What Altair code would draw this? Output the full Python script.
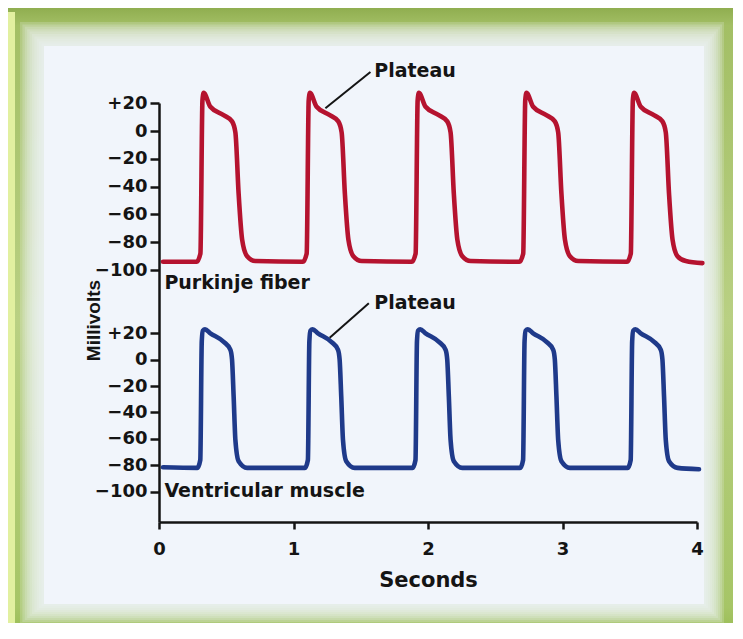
import altair as alt
import pandas as pd

# ---------------- data ----------------
# Purkinje fiber action potentials (upper trace): time (s), membrane potential (mV)
purkinje_t = [
    0.03,
    0.28, 0.308, 0.323, 0.332, 0.382, 0.48, 0.543, 0.568, 0.592, 0.618, 0.655, 0.717,
    1.07,
    1.098, 1.113, 1.122, 1.172, 1.27, 1.333, 1.358, 1.382, 1.408, 1.445, 1.507,
    1.88,
    1.908, 1.923, 1.932, 1.982, 2.08, 2.143, 2.168, 2.192, 2.218, 2.255, 2.317,
    2.68,
    2.708, 2.723, 2.732, 2.782, 2.88, 2.943, 2.968, 2.992, 3.018, 3.055, 3.117,
    3.48,
    3.508, 3.523, 3.532, 3.582, 3.68, 3.743, 3.768, 3.792, 3.818, 3.855, 3.917,
    4.04,
]
purkinje_mv = [
    -94,
    -94, -88, 22, 27.5, 17.5, 11.5, 7, -1, -45, -78, -90, -93.5,
    -94,
    -88, 22, 27.5, 17.5, 11.5, 7, -1, -45, -78, -90, -93.5,
    -94,
    -88, 22, 27.5, 17.5, 11.5, 7, -1, -45, -78, -90, -93.5,
    -94,
    -88, 22, 27.5, 17.5, 11.5, 7, -1, -45, -78, -90, -93.5,
    -94,
    -88, 22, 27.5, 17.5, 11.5, 7, -1, -45, -78, -90, -93.5,
    -95,
]

# Ventricular muscle action potentials (lower trace)
ventricular_t = [
    0.03,
    0.285, 0.307, 0.318, 0.326, 0.342, 0.382, 0.481, 0.531, 0.543, 0.555, 0.568, 0.592, 0.655,
    1.085,
    1.107, 1.118, 1.126, 1.142, 1.182, 1.281, 1.331, 1.343, 1.355, 1.368, 1.392, 1.455,
    1.885,
    1.907, 1.918, 1.926, 1.942, 1.982, 2.081, 2.131, 2.143, 2.155, 2.168, 2.192, 2.255,
    2.685,
    2.707, 2.718, 2.726, 2.742, 2.782, 2.881, 2.931, 2.943, 2.955, 2.968, 2.992, 3.055,
    3.485,
    3.507, 3.518, 3.526, 3.542, 3.582, 3.681, 3.731, 3.743, 3.755, 3.768, 3.792, 3.855,
    4.015,
]
ventricular_mv = [
    -81.5,
    -82, -76, 14, 22, 23, 20, 13.5, 7.5, 0, -28, -61, -77, -82,
    -82,
    -76, 14, 22, 23, 20, 13.5, 7.5, 0, -28, -61, -77, -82,
    -82,
    -76, 14, 22, 23, 20, 13.5, 7.5, 0, -28, -61, -77, -82,
    -82,
    -76, 14, 22, 23, 20, 13.5, 7.5, 0, -28, -61, -77, -82,
    -82,
    -76, 14, 22, 23, 20, 13.5, 7.5, 0, -28, -61, -77, -82,
    -83,
]

mv_ticks = [20, 0, -20, -40, -60, -80, -100]
second_ticks = [0, 1, 2, 3, 4]

trace_names = ["Purkinje fiber", "Ventricular muscle"]
trace_panels = ["top", "bottom"]
trace_colors = ["#b5132f", "#1f3a8a"]

# annotation anchors (time s, mV in own panel)
label_t = [0.04, 0.04]
label_mv = [-113.5, -104]
plateau_text = ["Plateau", "Plateau"]
plateau_text_t = [1.60, 1.60]
plateau_text_mv = [43.6, 43.3]
plateau_line_t1 = [1.572, 1.560]
plateau_line_mv1 = [42.5, 42.7]
plateau_line_t2 = [1.237, 1.269]
plateau_line_mv2 = [16.4, 16.7]

# ---------------- layout of the two stacked panels on one y scale ----------------
TOP_OFFSET = 173.2   # where the upper panel's 0 mV sits on the shared axis
TOP_GAIN = 1.053     # upper panel is drawn slightly taller


def to_u(mv, panel):
    return TOP_OFFSET + TOP_GAIN * mv if panel == "top" else mv


rows = []
for name, panel, ts, vs in [
    (trace_names[0], trace_panels[0], purkinje_t, purkinje_mv),
    (trace_names[1], trace_panels[1], ventricular_t, ventricular_mv),
]:
    for t, v in zip(ts, vs):
        rows.append({"trace": name, "t": t, "mv": v, "u": to_u(v, panel)})
traces = pd.DataFrame(rows)

labels_df = pd.DataFrame({
    "text": trace_names,
    "t": label_t,
    "u": [to_u(m, p) for m, p in zip(label_mv, trace_panels)],
})
plateau_df = pd.DataFrame({
    "text": plateau_text,
    "t": plateau_text_t,
    "u": [to_u(m, p) for m, p in zip(plateau_text_mv, trace_panels)],
    "t1": plateau_line_t1,
    "u1": [to_u(m, p) for m, p in zip(plateau_line_mv1, trace_panels)],
    "t2": plateau_line_t2,
    "u2": [to_u(m, p) for m, p in zip(plateau_line_mv2, trace_panels)],
})

y_tick_values = [to_u(v, "top") for v in mv_ticks] + [to_u(v, "bottom") for v in mv_ticks]

W, H = 538, 419
X0, Y0 = 159, 103          # page position of plot origin
FONT = "DejaVu Sans"
INK = "#141414"

v_expr = f"(datum.value > 60 ? round((datum.value - {TOP_OFFSET}) / {TOP_GAIN}) : round(datum.value))"
label_expr = f"{v_expr} > 0 ? '+' + {v_expr} : ({v_expr} < 0 ? '\u2212' + abs({v_expr}) : '0')"

x_scale = alt.Scale(domain=[0, 4], nice=False, zero=False)
y_scale = alt.Scale(domain=[-123, 194.5], nice=False, zero=False)

x_axis = alt.Axis(
    values=second_ticks, format="d", title="Seconds", grid=False,
    labelFont=FONT, labelFontSize=18, labelFontWeight="bold", labelColor=INK,
    labelPadding=11, labelFlush=False, tickSize=7, tickWidth=2.5, tickColor=INK,
    domainColor=INK, domainWidth=2.5, titleFont=FONT, titleFontSize=21,
    titleFontWeight="bold", titleColor=INK, titleY=58, titleBaseline="middle", zindex=1,
)
y_axis = alt.Axis(
    values=y_tick_values, labelExpr=label_expr, title="Millivolts", grid=False,
    labelFont=FONT, labelFontSize=18, labelFontWeight="bold", labelColor=INK,
    labelPadding=3, labelFlush=False, labelOverlap=False, tickSize=9, tickWidth=2.5,
    tickColor=INK, domainColor=INK, domainWidth=2.5, titleFont="Liberation Sans",
    titleFontSize=19, titleFontWeight="bold", titleColor=INK, titleX=-66, titleY=217,
    titleAngle=270, titleAlign="center", titleBaseline="middle", zindex=1,
)

X = lambda f: alt.X(f, type="quantitative", scale=x_scale, axis=x_axis)
Y = lambda f: alt.Y(f, type="quantitative", scale=y_scale, axis=y_axis)

# ---------------- decorative frame ----------------
dummy = pd.DataFrame({"d": [0]})


def rect(x1, y1, x2, y2, **kw):
    return alt.Chart(dummy).mark_rect(**kw).encode(
        x=alt.value(x1 - X0), x2=alt.value(x2 - X0),
        y=alt.value(y1 - Y0), y2=alt.value(y2 - Y0),
    )


frame_grad = alt.Gradient(
    gradient="linear", x1=0, y1=0, x2=0, y2=1,
    stops=[
        alt.GradientStop(offset=0, color="#87a646"),
        alt.GradientStop(offset=0.04, color="#a3bf65"),
        alt.GradientStop(offset=0.5, color="#b9d083"),
        alt.GradientStop(offset=0.95, color="#a6c566"),
        alt.GradientStop(offset=1, color="#97bb52"),
    ],
)
PANEL = "#f1f5fb"
frame_layers = [
    rect(0, 0, 743, 639, color=frame_grad),
    rect(0, 12, 15, 630, color="#e2f0a0"),
]
# soft inner edge: thin nested translucent panels
for k in range(10):
    frame_layers.append(
        rect(20 + 2.4 * k, 22 + 2.4 * k, 724 - 2.0 * k, 624 - 2.0 * k, color=PANEL, opacity=0.2)
    )
frame_layers.append(rect(44, 46, 704, 604, color=PANEL))

# ---------------- chart layers ----------------
lines = alt.Chart(traces).mark_line(
    strokeWidth=4.6, interpolate="monotone", strokeJoin="round", strokeCap="round"
).encode(
    x=X("t"), y=Y("u"),
    color=alt.Color("trace:N", scale=alt.Scale(domain=trace_names, range=trace_colors), legend=None),
)

pointers = alt.Chart(plateau_df).mark_rule(strokeWidth=2, color=INK).encode(
    x=X("t1"), x2="t2", y=Y("u1"), y2="u2"
)
plateau_labels = alt.Chart(plateau_df).mark_text(
    align="left", baseline="middle", font=FONT, fontSize=19, fontWeight="bold", color=INK
).encode(x=X("t"), y=Y("u"), text="text:N")

trace_labels = alt.Chart(labels_df).mark_text(
    align="left", baseline="alphabetic", font=FONT, fontSize=19, fontWeight="bold", color=INK
).encode(x=X("t"), y=Y("u"), text="text:N")

chart = alt.layer(
    *frame_layers, lines, pointers, plateau_labels, trace_labels
).properties(
    width=W, height=H,
    autosize=alt.AutoSizeParams(type="none"),
    padding={"left": 151, "top": 95, "right": 36, "bottom": 101},
    background="#ffffff",
).configure_view(stroke=None)

chart.save("out.html", embed_options={"renderer": "svg", "actions": False})
